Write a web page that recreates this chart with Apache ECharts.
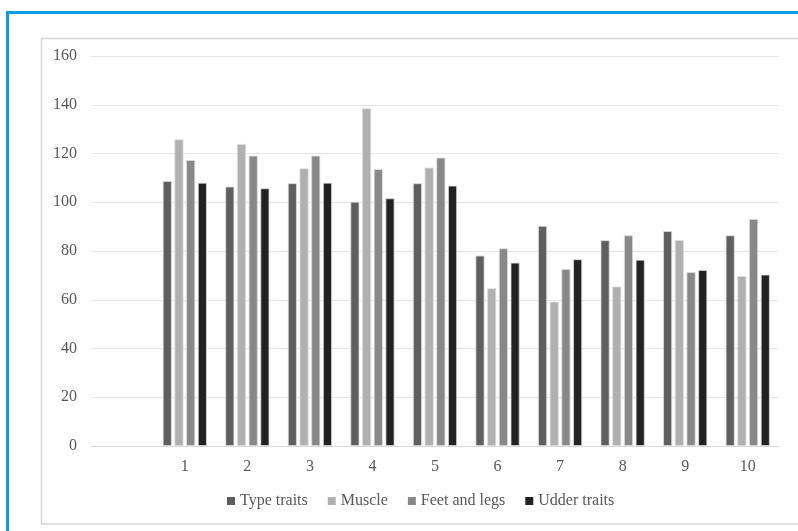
<!DOCTYPE html>
<html>
<head>
<meta charset="utf-8">
<script src="https://cdn.jsdelivr.net/npm/echarts@6/dist/echarts.min.js"></script>
<style>
html,body{margin:0;padding:0;background:#fff;}
#chart{width:798px;height:531px;}
</style>
</head>
<body>
<div id="chart"></div>
<script>
const categories = ['', '1', '2', '3', '4', '5', '6', '7', '8', '9', '10'];
const typeTraits = [null, 108.7, 106.4, 107.8, 100.2, 107.8, 78.1, 90.3, 84.4, 88.2, 86.4];
const muscle = [null, 125.8, 123.9, 113.9, 138.5, 114.2, 64.7, 59.2, 65.4, 84.5, 69.7];
const feetAndLegs = [null, 117.3, 119.1, 119.1, 113.6, 118.3, 81.1, 72.6, 86.4, 71.3, 93.1];
const udderTraits = [null, 108.0, 105.7, 108.0, 101.6, 106.8, 75.2, 76.6, 76.4, 72.2, 70.3];
const seriesNames = ['Type traits', 'Muscle', 'Feet and legs', 'Udder traits'];
const yTicks = { min: 0, max: 160, interval: 20 };

const colors = ['#5f5f5f', '#b0b0b0', '#888888', '#222222'];
const font = '"Liberation Serif", "DejaVu Serif", serif';

const chart = echarts.init(document.getElementById('chart'));
const dataSets = [typeTraits, muscle, feetAndLegs, udderTraits];

chart.setOption({
  animation: false,
  backgroundColor: '#ffffff',
  graphic: [
    { type: 'rect', shape: { x: 7.5, y: 12.5, width: 820, height: 560 },
      style: { fill: 'none', stroke: '#0a9ee0', lineWidth: 3 }, silent: true },
    { type: 'rect', shape: { x: 41.5, y: 38.5, width: 800, height: 485.5 },
      style: { fill: 'none', stroke: '#d9d9d9', lineWidth: 1.5 }, silent: true }
  ],
  grid: { left: 91, right: 19, top: 56, bottom: 85, containLabel: false },
  legend: {
    data: seriesNames,
    left: 222,
    top: 488,
    icon: 'rect',
    itemWidth: 8,
    itemHeight: 8,
    itemGap: 20,
    itemStyle: { borderWidth: 0 },
    textStyle: { fontFamily: font, fontSize: 16, color: '#595959' }
  },
  xAxis: {
    type: 'category',
    data: categories,
    axisLine: { show: true, lineStyle: { color: '#d9d9d9', width: 1 } },
    axisTick: { show: false },
    axisLabel: { fontFamily: font, fontSize: 16, color: '#595959', margin: 13 }
  },
  yAxis: {
    type: 'value',
    min: yTicks.min,
    max: yTicks.max,
    interval: yTicks.interval,
    axisLine: { show: false },
    axisTick: { show: false },
    axisLabel: { fontFamily: font, fontSize: 16, color: '#595959', margin: 14 },
    splitLine: { lineStyle: { color: '#e6e6e6', width: 1 } }
  },
  series: seriesNames.map((name, i) => ({
    name,
    type: 'bar',
    data: dataSets[i],
    barWidth: 9,
    barGap: '30%',
    itemStyle: { color: colors[i], borderColor: '#dcdcdc', borderWidth: 0.8 }
  }))
});
</script>
</body>
</html>
